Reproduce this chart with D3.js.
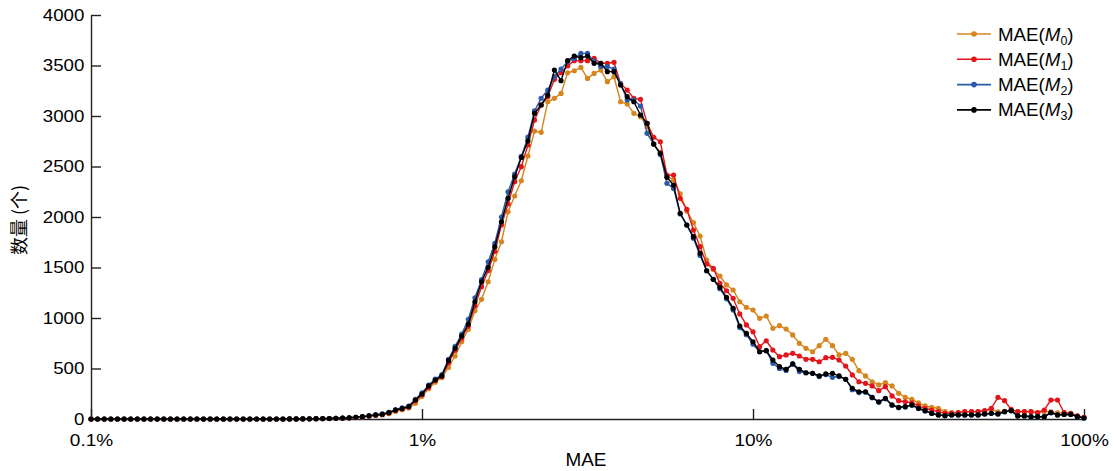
<!DOCTYPE html>
<html>
<head>
<meta charset="utf-8">
<script src="https://cdn.jsdelivr.net/npm/d3@7"></script>
<style>
  body { margin: 0; background: #fff; }
  text { font-family: "Liberation Sans", Arial, sans-serif; fill: #000; }
</style>
</head>
<body>
<svg width="1115" height="471"></svg>
<script>
// bin centres: 50 bins per decade from 0.1% to 100%
const mae = d3.range(151).map(i => Math.pow(10, -1 + i * 0.02));

const m0 = [0,0,0,0,0,0,0,0,0,0,0,0,0,0,0,0,0,0,0,0,0,0,0,0,0,0,0,0,0,0,
  0,1,1,2,2,3,4,5,7,10,14,19,26,
  35,40,52,75,92,110,155,225,300,365,410,510,624,765,888,1072,1185,1359,1580,1755,2052,2208,2359,2604,
  2851,2838,3141,3175,3224,3428,3448,3481,3372,3422,3455,3340,3389,3141,3118,3026,2993,2894,2722,2640,2400,2370,2230,
  2060,1944,1812,1574,1480,1416,1327,1277,1161,1106,1079,997,1020,898,924,891,832,749,700,666,726,789,726,634,
  650,591,478,426,369,337,360,327,254,215,195,161,129,116,106,73,63,63,70,73,73,80,95,70,75,85,73,73,73,63,75,70,60,63,56,30,17];

const m1 = [0,0,0,0,0,0,0,0,0,0,0,0,0,0,0,0,0,0,0,0,0,0,0,0,0,0,0,0,0,0,
  1,1,2,2,3,4,5,7,9,12,16,22,30,
  38,45,60,85,100,118,180,240,315,380,420,555,680,800,920,1120,1310,1470,1660,1920,2130,2350,2498,2713,
  2960,3109,3191,3363,3428,3495,3548,3548,3548,3571,3522,3522,3531,3320,3257,3175,3165,2927,2789,2745,2416,2416,2185,
  2076,1871,1706,1535,1492,1343,1270,1195,1040,931,864,716,775,683,617,634,650,624,591,591,567,607,611,584,
  525,436,369,353,327,280,320,228,181,171,161,129,106,89,73,56,56,63,73,73,73,82,106,215,181,96,73,73,73,63,89,188,188,63,56,30,17];

const m2 = [0,0,0,0,0,0,0,0,0,0,0,0,0,0,0,0,0,0,0,0,0,0,0,0,0,0,0,0,0,0,
  1,1,2,2,3,4,5,7,9,12,17,23,31,
  42,50,66,92,110,128,195,260,335,395,440,590,720,840,987,1200,1380,1557,1740,2000,2250,2425,2600,2790,
  3050,3175,3257,3390,3465,3540,3570,3620,3620,3540,3490,3490,3465,3320,3158,3158,3099,2828,2722,2620,2333,2283,2030,
  1921,1790,1620,1468,1383,1290,1190,1080,905,835,740,666,676,551,500,480,545,470,458,452,420,440,413,420,
  393,290,262,265,210,165,200,135,112,120,135,104,80,55,40,33,40,40,40,40,40,50,56,50,73,82,30,30,23,23,23,63,40,45,45,23,10];

const m3 = [0,0,0,0,0,0,0,0,0,0,0,0,0,0,0,0,0,0,0,0,0,0,0,0,0,0,0,0,0,0,
  1,1,2,2,3,4,5,7,9,12,17,23,31,
  40,47,63,89,105,122,188,247,327,386,426,577,700,822,940,1161,1359,1502,1706,1953,2185,2399,2590,2755,
  3026,3109,3208,3455,3350,3548,3594,3577,3594,3522,3522,3439,3439,3307,3191,3141,3010,2927,2722,2630,2393,2317,2036,
  1921,1805,1640,1468,1383,1304,1205,1096,921,848,765,666,676,584,518,492,545,492,458,452,426,446,452,426,
  393,304,270,270,215,171,205,139,116,122,139,106,82,56,40,33,40,40,40,40,40,50,56,50,73,82,30,30,23,23,23,63,40,45,45,23,10];

const seriesNames = ["0", "1", "2", "3"];
const seriesColors = ["#d6861e", "#e3151b", "#2a5aa8", "#000000"];
const xTicks = [0.1, 1, 10, 100];
const xTickLabels = ["0.1%", "1%", "10%", "100%"];
const yTicks = [0, 500, 1000, 1500, 2000, 2500, 3000, 3500, 4000];

const series = [m0, m1, m2, m3].map((vals, k) => ({
  name: seriesNames[k],
  color: seriesColors[k],
  points: vals.map((v, i) => ({x: mae[i], y: v}))
}));

const svg = d3.select("svg");

const x = d3.scaleLog().domain([0.1, 100]).range([91, 1084]);
const y = d3.scaleLinear().domain([0, 4000]).range([419, 15]);

// axes, ticks pointing inward
const xAxis = svg.append("g")
  .attr("transform", "translate(0,419)")
  .call(d3.axisBottom(x)
    .tickValues(xTicks)
    .tickFormat((d, i) => xTickLabels[i])
    .tickSizeInner(-10)
    .tickSizeOuter(0)
    .tickPadding(15));

const yAxis = svg.append("g")
  .attr("transform", "translate(91,0)")
  .call(d3.axisLeft(y)
    .tickValues(yTicks)
    .tickFormat(d3.format("d"))
    .tickSizeInner(-10)
    .tickSizeOuter(0)
    .tickPadding(6));

[xAxis, yAxis].forEach(g => {
  g.select(".domain").attr("stroke", "#222").attr("stroke-width", 1.4);
  g.selectAll(".tick line").attr("stroke", "#222").attr("stroke-width", 1.4);
  g.selectAll(".tick text")
    .attr("font-size", 17)
    .attr("font-family", "Liberation Sans, Arial, sans-serif")
    .attr("fill", "#000");
});
xAxis.selectAll(".tick text").attr("transform", "scale(1.12,1)");
yAxis.selectAll(".tick text").attr("transform", "scale(1.1,1)");

// axis titles
svg.append("text")
  .attr("transform", "translate(586,466) scale(1.05,1)")
  .attr("text-anchor", "middle")
  .attr("font-size", 18)
  .text("MAE");

svg.append("text")
  .attr("transform", "translate(26,220) rotate(-90)")
  .attr("text-anchor", "middle")
  .attr("font-size", 18)
  .attr("fill", "#333")
  .style("font-family", "'Noto Sans CJK SC', sans-serif")
  .text("数量 (个)");

// series
const line = d3.line().x(d => x(d.x)).y(d => y(d.y));

series.forEach(s => {
  const g = svg.append("g");
  g.append("path")
    .datum(s.points)
    .attr("fill", "none")
    .attr("stroke", s.color)
    .attr("stroke-width", 1.4)
    .attr("d", line);
  g.selectAll("circle")
    .data(s.points)
    .join("circle")
    .attr("cx", d => x(d.x))
    .attr("cy", d => y(d.y))
    .attr("r", 2.6)
    .attr("fill", s.color);
});

// legend
const legend = svg.append("g");
series.forEach((s, k) => {
  const ly = 34 + k * 25.3;
  legend.append("line")
    .attr("x1", 957).attr("x2", 991)
    .attr("y1", ly).attr("y2", ly)
    .attr("stroke", s.color)
    .attr("stroke-width", 1.6);
  legend.append("circle")
    .attr("cx", 974).attr("cy", ly).attr("r", 2.8)
    .attr("fill", s.color);
  const t = legend.append("text")
    .attr("transform", `translate(998,${ly + 6.5}) scale(1.04,1)`)
    .attr("font-size", 18);
  t.append("tspan").text("MAE(");
  t.append("tspan").attr("font-style", "italic").text("M");
  t.append("tspan").attr("font-size", 12).attr("dy", 4).text(s.name);
  t.append("tspan").attr("dy", -4).text(")");
});
</script>
</body>
</html>
